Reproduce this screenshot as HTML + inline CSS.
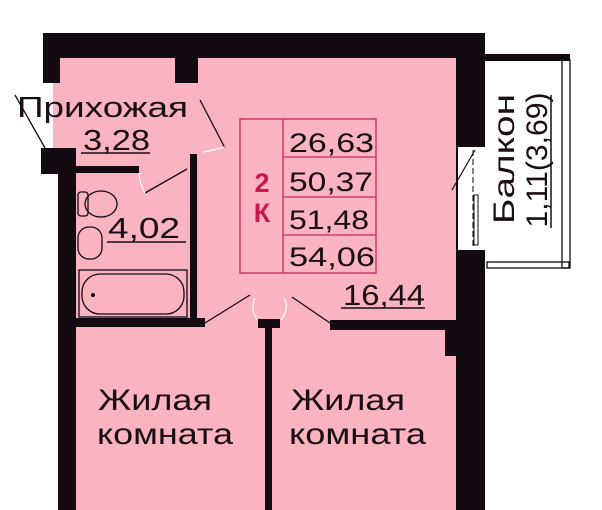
<!DOCTYPE html>
<html><head><meta charset="utf-8"><style>
html,body{margin:0;padding:0;background:#fff;}
svg{display:block;}
text{font-family:"Liberation Sans","DejaVu Sans",sans-serif;fill:#1a0d14;}
</style></head><body>
<svg width="602" height="510" viewBox="0 0 602 510" xmlns="http://www.w3.org/2000/svg">
<!-- pink floor -->
<g fill="#f9b3c1">
<rect x="60" y="58" width="398" height="452"/>
<rect x="53" y="83" width="10" height="66"/>
</g>
<!-- balcony -->
<rect x="485" y="55" width="85" height="214" fill="#fff"/>
<rect x="485" y="54" width="85" height="7" fill="#130a12"/>
<rect x="562" y="60" width="8" height="208" fill="none" stroke="#130a12" stroke-width="1.3"/>
<rect x="487" y="262" width="82" height="6" fill="none" stroke="#130a12" stroke-width="1.3"/>
<!-- walls -->
<g fill="#130a12">
<rect x="43" y="33" width="442" height="25"/>
<rect x="43" y="33" width="17" height="50"/>
<rect x="175" y="33" width="23" height="50"/>
<rect x="192" y="58" width="6" height="24"/>
<rect x="456" y="33" width="29" height="477"/>
<rect x="41" y="148" width="35" height="26"/>
<rect x="58" y="148" width="18" height="362"/>
<rect x="76" y="166" width="63" height="7"/>
<rect x="190" y="154" width="7" height="168"/>
<rect x="76" y="318" width="129" height="9"/>
<rect x="258" y="319" width="22" height="9"/>
<rect x="265" y="319" width="7" height="191"/>
<rect x="330" y="320" width="128" height="10"/>
<rect x="445" y="320" width="13" height="36"/>
</g>
<!-- door openings -->
<rect x="458" y="147" width="27" height="103" fill="#fff"/>
<line x1="473" y1="150" x2="473" y2="248" stroke="#130a12" stroke-width="1" stroke-dasharray="6,3"/>
<rect x="474" y="195" width="4" height="50" fill="#fff" stroke="#130a12" stroke-width="1"/>
<line x1="475" y1="150" x2="452" y2="190" stroke="#130a12" stroke-width="1.2"/>
<!-- door leaves -->
<g stroke="#130a12" stroke-width="1.3" fill="none">
<line x1="15" y1="95" x2="45" y2="148"/>
<line x1="200" y1="100" x2="225" y2="148"/>
<line x1="187" y1="169" x2="145" y2="193"/>
<line x1="205" y1="323" x2="250" y2="295"/>
<line x1="330" y1="323" x2="292" y2="297"/>
</g>
<g stroke="#fff" stroke-width="1.2" fill="none">
<path d="M203 152 Q215 150 225 147"/>
<path d="M139 173 Q140 185 145 193"/>
<path d="M255 298 Q250 308 257 320"/>
<path d="M284 298 Q290 308 281 320"/>
</g>
<!-- fixtures -->
<g stroke="#130a12" stroke-width="1.3" fill="none">
<rect x="78" y="192" width="10" height="24" rx="3"/>
<ellipse cx="101" cy="204" rx="16" ry="13"/>
<rect x="78" y="227" width="24" height="32" rx="11"/>
<rect x="79" y="270" width="108" height="47"/>
<rect x="82" y="274" width="102" height="40" rx="18"/>
</g>
<circle cx="93" cy="295" r="2" fill="#130a12"/>
<!-- info box -->
<g stroke="#c62a5a" stroke-width="1.3" fill="none">
<rect x="240" y="119" width="136" height="154"/>
<line x1="283" y1="119" x2="283" y2="273"/>
<line x1="283" y1="157" x2="376" y2="157"/>
<line x1="283" y1="197" x2="376" y2="197"/>
<line x1="283" y1="235" x2="376" y2="235"/>
</g>
<text x="262" y="192" font-size="27" font-weight="bold" text-anchor="middle" style="fill:#c8174f">2</text>
<text x="262" y="222" font-size="27" font-weight="bold" text-anchor="middle" style="fill:#c8174f">К</text>
<g font-size="27" lengthAdjust="spacingAndGlyphs">
<text x="289" y="152" textLength="85" lengthAdjust="spacingAndGlyphs">26,63</text>
<text x="289" y="191" textLength="84" lengthAdjust="spacingAndGlyphs">50,37</text>
<text x="289" y="229" textLength="80" lengthAdjust="spacingAndGlyphs">51,48</text>
<text x="289" y="266" textLength="86" lengthAdjust="spacingAndGlyphs">54,06</text>
</g>
<!-- labels -->
<text x="17" y="117" font-size="29" textLength="171" lengthAdjust="spacingAndGlyphs">Прихожая</text>
<text x="83" y="150" font-size="29" textLength="67" lengthAdjust="spacingAndGlyphs">3,28</text>
<line x1="81" y1="153" x2="150" y2="153" stroke="#1a0d14" stroke-width="1.5"/>
<text x="108" y="238" font-size="29" textLength="72" lengthAdjust="spacingAndGlyphs">4,02</text>
<line x1="107" y1="242" x2="186" y2="242" stroke="#1a0d14" stroke-width="1.5"/>
<text x="343" y="305" font-size="29" textLength="82" lengthAdjust="spacingAndGlyphs">16,44</text>
<line x1="341" y1="308" x2="425" y2="308" stroke="#1a0d14" stroke-width="1.5"/>
<g font-size="30">
<text x="98" y="410" textLength="114" lengthAdjust="spacingAndGlyphs">Жилая</text>
<text x="97" y="444" textLength="136" lengthAdjust="spacingAndGlyphs">комната</text>
<text x="291" y="410" textLength="114" lengthAdjust="spacingAndGlyphs">Жилая</text>
<text x="289" y="444" textLength="137" lengthAdjust="spacingAndGlyphs">комната</text>
</g>
<text transform="translate(514,159) rotate(-90)" font-size="30" text-anchor="middle" textLength="130" lengthAdjust="spacingAndGlyphs">Балкон</text>
<text transform="translate(547,160) rotate(-90)" font-size="30" text-anchor="middle" textLength="135" lengthAdjust="spacingAndGlyphs">1,11(3,69)</text>
<line x1="551" y1="95" x2="551" y2="228" stroke="#1a0d14" stroke-width="1.5"/>
</svg>
</body></html>
